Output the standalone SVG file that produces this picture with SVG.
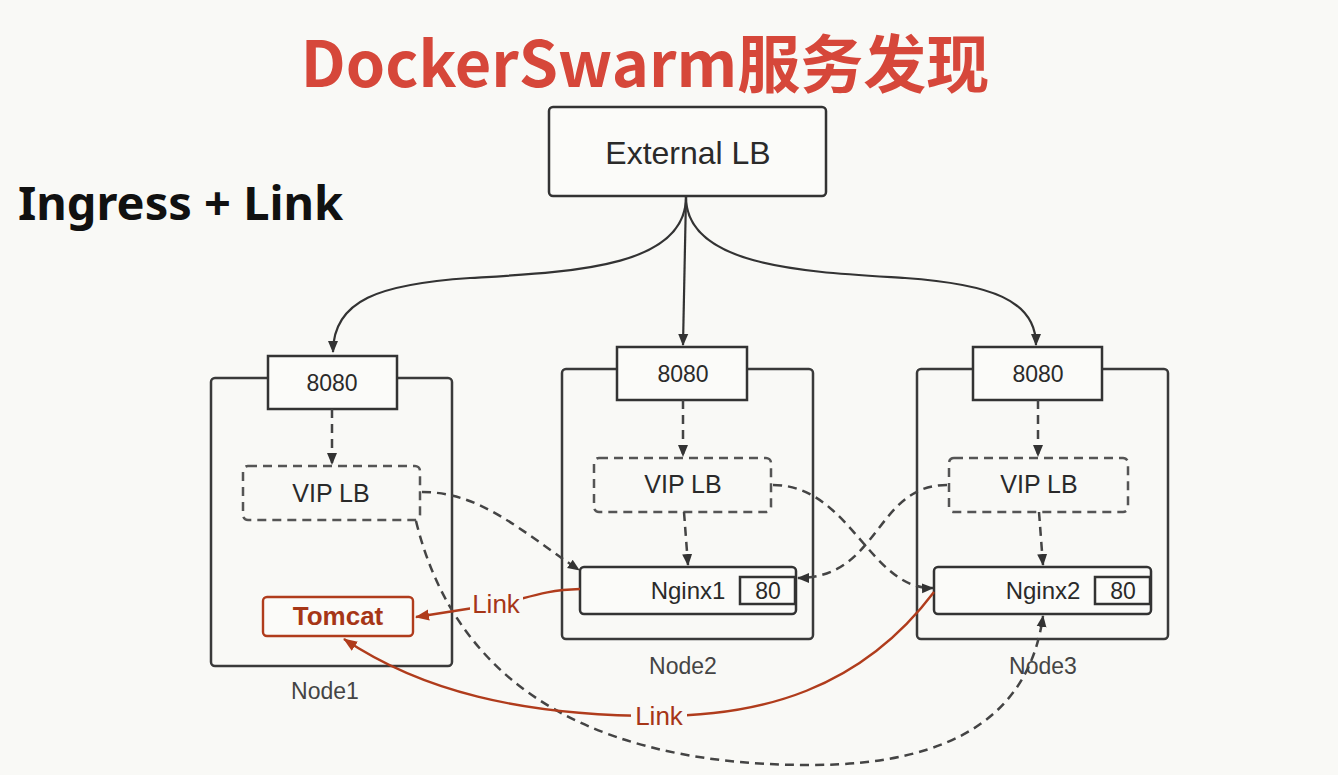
<svg xmlns="http://www.w3.org/2000/svg" width="1338" height="775" viewBox="0 0 1338 775">
<style>
.box{fill:#fbfbf9;stroke:#333;stroke-width:2.5}
.outer{fill:none;stroke:#3a3a3a;stroke-width:2.5}
.dbox{fill:none;stroke:#555;stroke-width:2.5;stroke-dasharray:9 6}
.t{font-family:"Liberation Sans",Arial,sans-serif;fill:#2a2a2a;text-anchor:middle}
.lbl{font-family:"Liberation Sans",Arial,sans-serif;fill:#444;text-anchor:middle;font-size:23px}
.solid{fill:none;stroke:#333;stroke-width:2.2}
.dash{fill:none;stroke:#444;stroke-width:2.5;stroke-dasharray:9 6}
.red{fill:none;stroke:#b03c1c;stroke-width:2.4}
.redt{font-family:"Liberation Sans",Arial,sans-serif;fill:#a63617;text-anchor:middle;font-size:26px}
</style>
<defs>
<marker id="ah" markerWidth="12" markerHeight="12" refX="11" refY="6" orient="auto" markerUnits="userSpaceOnUse"><path d="M0,1 L12,6 L0,11 Z" fill="#333"/></marker>
<marker id="ahr" markerWidth="14" markerHeight="12" refX="13" refY="6" orient="auto" markerUnits="userSpaceOnUse"><path d="M0,0.5 L14,6 L0,11.5 Z" fill="#b03c1c"/></marker>
</defs>
<rect x="0" y="0" width="1338" height="775" fill="#f9f9f6"/>
<text x="645" y="87" font-family="'Noto Sans CJK SC','Liberation Sans',sans-serif" font-weight="bold" font-size="63" fill="#d6473a" text-anchor="middle">DockerSwarm服务发现</text>
<text x="18" y="220" font-family="'Noto Sans','Liberation Sans',sans-serif" font-weight="bold" font-size="47" fill="#111">Ingress + Link</text>

<g id="external-lb">
<rect class="box" x="549" y="107" width="277" height="89" rx="4"/>
<text class="t" x="688" y="164" font-size="32">External LB</text>
</g>

<g id="node1">
<rect class="outer" x="211" y="378" width="241" height="288" rx="4"/>
<rect class="box" x="268" y="356" width="129" height="53"/>
<text class="t" x="332" y="391" font-size="23">8080</text>
<rect class="dbox" x="243" y="466" width="177" height="54" rx="5"/>
<text class="t" x="331" y="502" font-size="25">VIP LB</text>
<rect x="263" y="597" width="150" height="39" rx="4" fill="#fbfbf9" stroke="#b03c1c" stroke-width="2.4"/>
<text class="redt" x="338" y="625" font-weight="bold" font-size="25">Tomcat</text>
<text class="lbl" x="325" y="699">Node1</text>
</g>

<g id="node2">
<rect class="outer" x="562" y="369" width="251" height="270" rx="4"/>
<rect class="box" x="617" y="347" width="130" height="53"/>
<text class="t" x="683" y="382" font-size="23">8080</text>
<rect class="dbox" x="594" y="458" width="177" height="54" rx="5"/>
<text class="t" x="683" y="493" font-size="25">VIP LB</text>
<rect class="box" x="580" y="567" width="216" height="47" rx="4"/>
<text class="t" x="688" y="599" font-size="24">Nginx1</text>
<rect class="box" x="740" y="577" width="55" height="27"/>
<text class="t" x="768" y="599" font-size="23">80</text>
<text class="lbl" x="683" y="674">Node2</text>
</g>

<g id="node3">
<rect class="outer" x="917" y="369" width="251" height="270" rx="4"/>
<rect class="box" x="973" y="347" width="129" height="53"/>
<text class="t" x="1038" y="382" font-size="23">8080</text>
<rect class="dbox" x="949" y="458" width="179" height="54" rx="5"/>
<text class="t" x="1039" y="493" font-size="25">VIP LB</text>
<rect class="box" x="934" y="567" width="217" height="47" rx="4"/>
<text class="t" x="1043" y="599" font-size="24">Nginx2</text>
<rect class="box" x="1095" y="577" width="55" height="27"/>
<text class="t" x="1123" y="599" font-size="23">80</text>
<text class="lbl" x="1043" y="674">Node3</text>
</g>

<g id="connectors">
<path class="solid" d="M686,197 C686,268 570,272 470,278 C380,284 333,300 333,352" marker-end="url(#ah)"/>
<path class="solid" d="M686,197 L683,345" marker-end="url(#ah)"/>
<path class="solid" d="M686,197 C686,268 810,272 905,278 C990,284 1036,300 1036,345" marker-end="url(#ah)"/>

<path class="dash" d="M332,409 L332,464" marker-end="url(#ah)"/>
<path class="dash" d="M683,400 L683,456" marker-end="url(#ah)"/>
<path class="dash" d="M1038,400 L1038,456" marker-end="url(#ah)"/>
<path class="dash" d="M684,512 L688,565" marker-end="url(#ah)"/>
<path class="dash" d="M1039,512 L1043,565" marker-end="url(#ah)"/>

<path class="dash" d="M422,492 C480,492 520,530 579,570" marker-end="url(#ah)"/>
<path class="dash" d="M773,485 C850,485 870,590 933,588" marker-end="url(#ah)"/>
<path class="dash" d="M947,485 C875,485 880,578 798,578" marker-end="url(#ah)"/>
<path class="dash" d="M416,521 C450,660 560,765 810,765 C960,765 1030,710 1043,616" marker-end="url(#ah)"/>

<path class="red" d="M580,589 C545,590 530,597 505,603 L416,617" marker-end="url(#ahr)"/>
<path class="red" d="M934,592 C860,690 760,716 658,716 C520,716 420,690 344,639" marker-end="url(#ahr)"/>
<rect x="470" y="589" width="53" height="25" fill="#f9f9f6"/>
<text class="redt" x="496" y="613">Link</text>
<rect x="631" y="701" width="56" height="25" fill="#f9f9f6"/>
<text class="redt" x="659" y="725">Link</text>
</g>
</svg>
